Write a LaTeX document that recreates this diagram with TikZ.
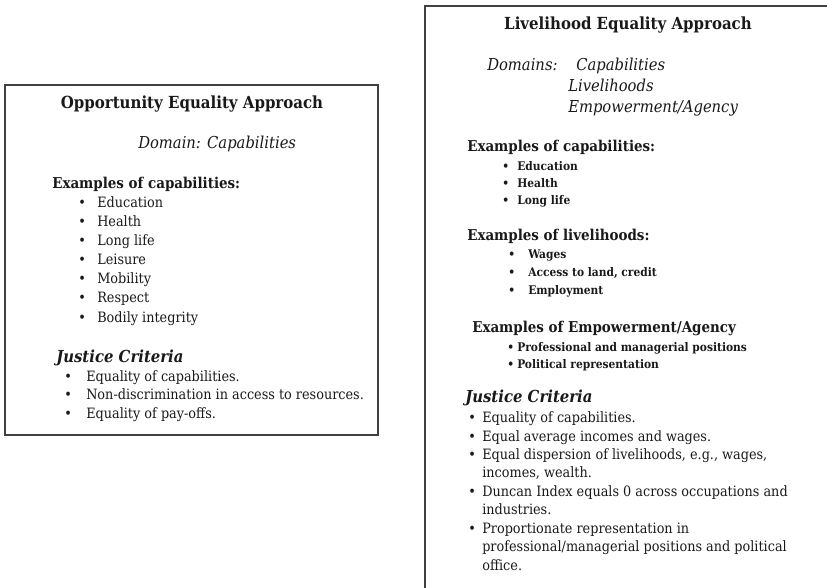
\documentclass[tikz,border=0pt]{standalone}
\usepackage{fontspec}
\setmainfont{DejaVu Serif Condensed}
\usetikzlibrary{positioning}

\newcommand{\blt}[1]{\makebox[#1][l]{\textbullet}}

\begin{document}
\begin{tikzpicture}[%
		x=0.75pt, y=-0.75pt,
		inner sep=0pt,
		text=black!90,
		panel/.style={
			draw=black!75,
			line width=1.1pt
		},
		boxtitle/.style={
			font=\fontsize{12.5}{14}\selectfont\bfseries,
			anchor=base
		},
		domaintxt/.style={
			font=\fontsize{12.3}{14}\selectfont\itshape,
			anchor=base west
		},
		exhead/.style={
			font=\fontsize{11.2}{13}\selectfont\bfseries,
			anchor=base west
		},
		listitem/.style={
			font=\fontsize{10.7}{13}\selectfont,
			anchor=base west
		},
		smallitem/.style={
			font=\fontsize{8.9}{11}\selectfont\bfseries,
			anchor=base west
		},
		critlabel/.style={
			font=\fontsize{12.4}{14}\selectfont\bfseries\itshape,
			anchor=base west
		}]

		\useasboundingbox (0,0) rectangle (827,587);
		\clip (0,0) rectangle (827,587);

		% OPPORTUNITY EQUALITY

		\draw[panel] (5,85) rectangle (378,435);

		\node (oe-title) [boxtitle] at (192,108) {Opportunity Equality Approach};
		\node (oe-domain) [domaintxt] at (138,148) {Domain: Capabilities};
		\node (oe-ex) [exhead] at (52,188) {Examples of capabilities:};
		\node (oe-c1) [listitem] at (78,207) {\blt{14.25pt}Education};
		\node (oe-c2) [listitem] at (78,226) {\blt{14.25pt}Health};
		\node (oe-c3) [listitem] at (78,245) {\blt{14.25pt}Long life};
		\node (oe-c4) [listitem] at (78,264) {\blt{14.25pt}Leisure};
		\node (oe-c5) [listitem] at (78,283) {\blt{14.25pt}Mobility};
		\node (oe-c6) [listitem] at (78,302) {\blt{14.25pt}Respect};
		\node (oe-c7) [listitem] at (78,322) {\blt{14.25pt}Bodily integrity};

		\node (oe-jc) [critlabel] at (56,362) {Justice Criteria};
		\node (oe-j1) [listitem] at (64,381) {\blt{16.5pt}Equality of capabilities.};
		\node (oe-j2) [listitem] at (64,399) {\blt{16.5pt}Non-discrimination in access to resources.};
		\node (oe-j3) [listitem] at (64,418) {\blt{16.5pt}Equality of pay-offs.};

		% LIVELIHOOD EQUALITY

		\draw[panel] (425,6) rectangle (850,610);

		\node (le-title) [boxtitle] at (628,29) {Livelihood Equality Approach};
		\node (le-domains) [domaintxt] at (487,70) {Domains:};
		\node (le-d1) [domaintxt] at (576,70) {Capabilities};
		\node (le-d2) [domaintxt] at (568,91) {Livelihoods};
		\node (le-d3) [domaintxt] at (568,112) {Empowerment/Agency};

		\node (le-exc) [exhead] at (467,151) {Examples of capabilities:};
		\node (le-c1) [smallitem] at (502,170) {\blt{11.25pt}Education};
		\node (le-c2) [smallitem] at (502,187) {\blt{11.25pt}Health};
		\node (le-c3) [smallitem] at (502,204) {\blt{11.25pt}Long life};

		\node (le-exl) [exhead] at (467,240) {Examples of livelihoods:};
		\node (le-l1) [smallitem] at (508,258) {\blt{15pt}Wages};
		\node (le-l2) [smallitem] at (508,276) {\blt{15pt}Access to land, credit};
		\node (le-l3) [smallitem] at (508,294) {\blt{15pt}Employment};

		\node (le-exe) [exhead] at (472,332) {Examples of Empowerment/Agency};
		\node (le-e1) [smallitem] at (507,351) {\blt{7.5pt}Professional and managerial positions};
		\node (le-e2) [smallitem] at (507,368) {\blt{7.5pt}Political representation};

		\node (le-jc) [critlabel] at (465,402) {Justice Criteria};
		\node (le-j1) [listitem] at (468,422) {\blt{10.5pt}Equality of capabilities.};
		\node (le-j2) [listitem] at (468,441) {\blt{10.5pt}Equal average incomes and wages.};
		\node (le-j3) [listitem] at (468,459) {\blt{10.5pt}Equal dispersion of livelihoods, e.g., wages,};
		\node (le-j3b) [listitem] at (482,477) {incomes, wealth.};
		\node (le-j4) [listitem] at (468,496) {\blt{10.5pt}Duncan Index equals 0 across occupations and};
		\node (le-j4b) [listitem] at (482,514) {industries.};
		\node (le-j5) [listitem] at (468,533) {\blt{10.5pt}Proportionate representation in};
		\node (le-j5b) [listitem] at (482,551) {professional/managerial positions and political};
		\node (le-j5c) [listitem] at (482,570) {office.};
\end{tikzpicture}
\end{document}
